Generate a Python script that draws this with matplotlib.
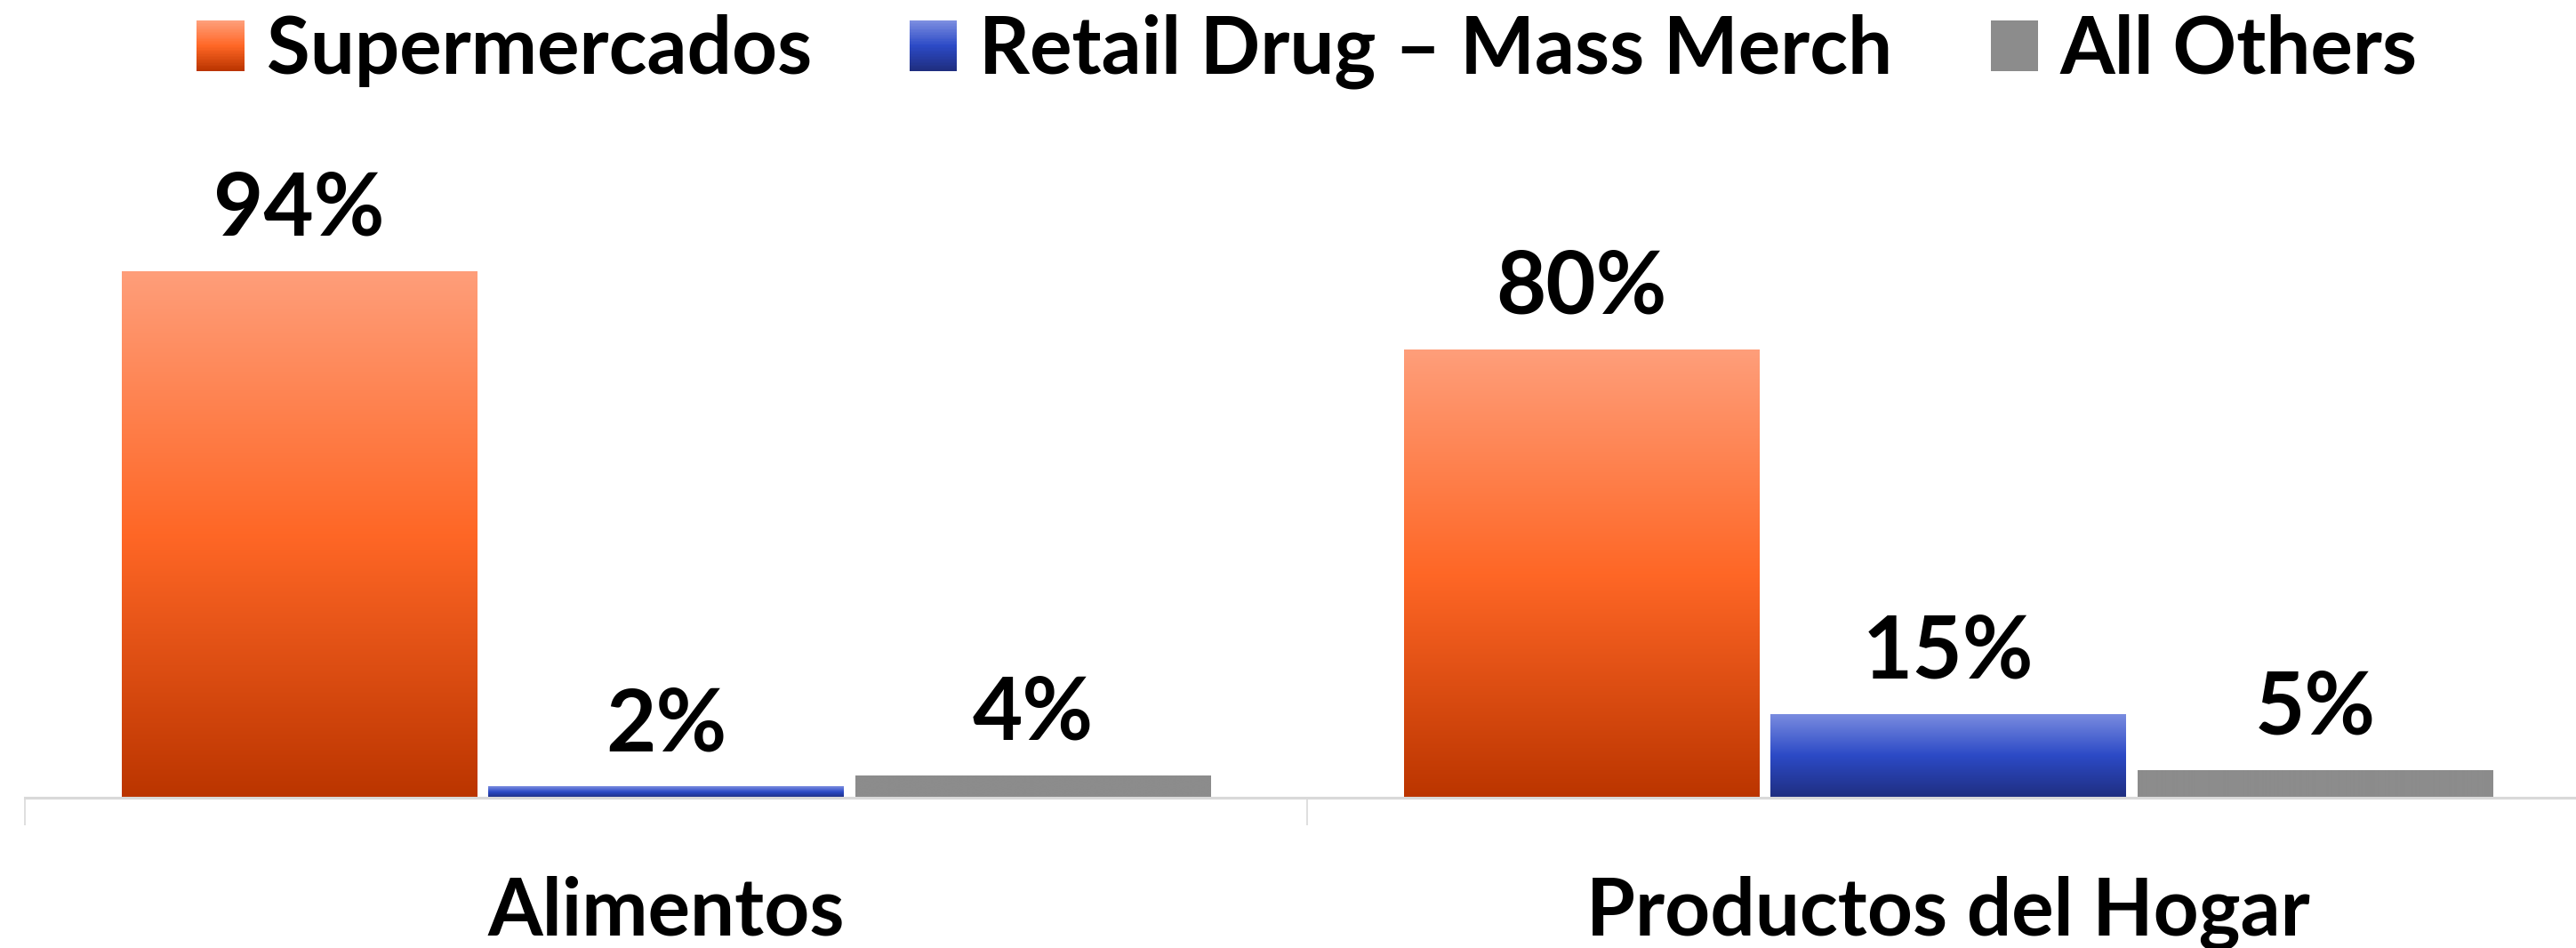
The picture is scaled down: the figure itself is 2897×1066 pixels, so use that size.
import numpy as np
import matplotlib
matplotlib.use("Agg")
import matplotlib.pyplot as plt
from matplotlib.colors import LinearSegmentedColormap
from matplotlib.patches import Rectangle
from matplotlib.legend_handler import HandlerBase

plt.rcParams["font.family"] = ["Lato", "DejaVu Sans"]
plt.rcParams["font.weight"] = "bold"

# Data
categories = ["Alimentos", "Productos del Hogar"]
series_names = ["Supermercados", "Retail Drug \u2013 Mass Merch", "All Others"]
supermercados = [94, 80]
retail_drug = [2, 15]
all_others = [4, 5]
series_values = [supermercados, retail_drug, all_others]

# Vertical gradients (top, middle, bottom) for each series
gradients = [
    ["#FE9E7A", "#FF6726", "#BB3500"],
    ["#7B8DE0", "#2C4AC6", "#1F2E80"],
    ["#8C8C8C", "#8C8C8C", "#8C8C8C"],
]
cmaps = [LinearSegmentedColormap.from_list(f"g{i}", g[::-1]) for i, g in enumerate(gradients)]

W, H, DPI = 2897, 1066, 100
fig = plt.figure(figsize=(W / DPI, H / DPI), dpi=DPI)

# Axes placed in pixel terms: baseline at y=897, 100% at y=267, categories 1442 px apart
ax_left, ax_bottom = 28, H - 897
ax_w, ax_h = 2 * 1442, 630
ax = fig.add_axes([ax_left / W, ax_bottom / H, ax_w / W, ax_h / H])

x = np.arange(len(categories))
bar_w = 0.2767
step = 0.2864

grad = np.linspace(0, 1, 256).reshape(-1, 1)
for i, (vals, cmap) in enumerate(zip(series_values, cmaps)):
    bars = ax.bar(x + (i - 1) * step, vals, width=bar_w, color=gradients[i][1],
                  edgecolor="none", zorder=2)
    for b, v in zip(bars, vals):
        bx, bw, bh = b.get_x(), b.get_width(), b.get_height()
        im = ax.imshow(grad, cmap=cmap, aspect="auto", origin="lower",
                       extent=(bx, bx + bw, 0, bh), zorder=3, interpolation="bilinear")
        im.set_clip_path(b)
        ax.annotate(f"{v}%", xy=(bx + bw / 2, bh), xytext=(0, 29),
                    textcoords="offset points", ha="center", va="baseline",
                    fontsize=70, fontweight="bold", color="black", zorder=5)

ax.set_xlim(-0.5, 1.5)
ax.set_ylim(0, 100)

# Axis styling
for s in ["top", "right", "left"]:
    ax.spines[s].set_visible(False)
ax.spines["bottom"].set_color("#D9D9D9")
ax.spines["bottom"].set_linewidth(2.2)
ax.spines["bottom"].set_zorder(4)
ax.set_yticks([])
ax.set_xticks(x)
ax.set_xticklabels(categories, fontsize=64, fontweight="bold")
ax.tick_params(axis="x", which="major", length=0, pad=63)
ax.set_xticks([-0.5, 0.5, 1.5], minor=True)
ax.tick_params(axis="x", which="minor", length=22, width=1.2, color="#D9D9D9")


class GradientHandler(HandlerBase):
    def __init__(self, colors):
        super().__init__()
        self.cmap = LinearSegmentedColormap.from_list("h", colors[::-1])

    def create_artists(self, legend, orig_handle, xdescent, ydescent, width, height,
                       fontsize, trans):
        n = 40
        arts = []
        for k in range(n):
            r = Rectangle((-xdescent, -ydescent + height * k / n), width, height / n + 0.3,
                          facecolor=self.cmap(k / (n - 1)), edgecolor="none", transform=trans)
            arts.append(r)
        return arts


handles = [Rectangle((0, 0), 1, 1) for _ in series_names]
leg = fig.legend(handles, series_names, loc="center", bbox_to_anchor=(0.5075, 1 - 58 / H),
                 ncol=3, frameon=False, fontsize=64,
                 handler_map={h: GradientHandler(g) for h, g in zip(handles, gradients)},
                 handlelength=0.6, handleheight=0.6, handletextpad=0.28,
                 columnspacing=1.24, borderaxespad=0, borderpad=0)
for t in leg.get_texts():
    t.set_fontweight("bold")

fig.savefig("out.png", dpi=DPI, facecolor="white")
